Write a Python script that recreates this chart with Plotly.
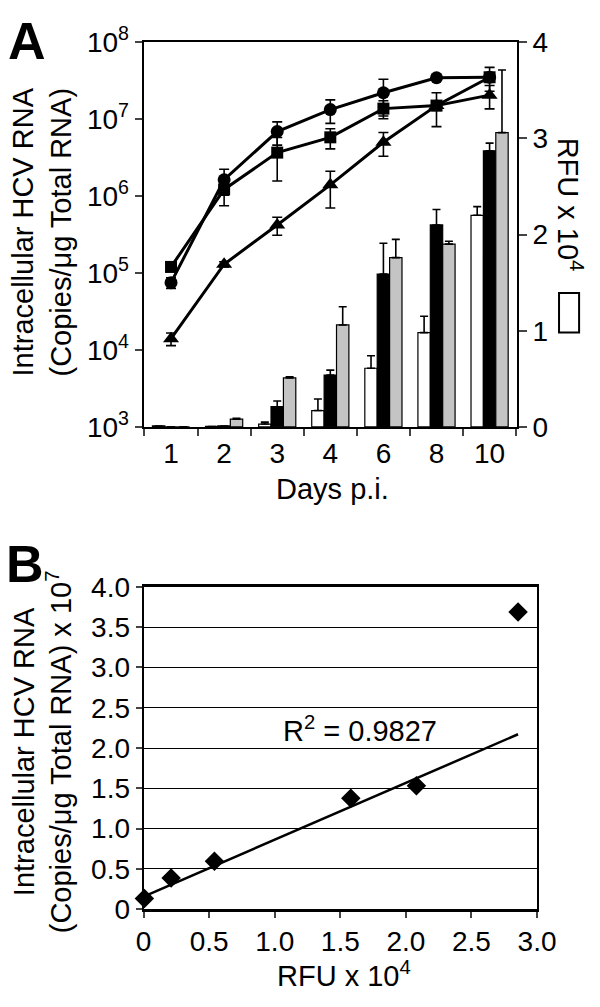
import plotly.graph_objects as go

# ---------------- Panel A data ----------------
days = ["1", "2", "3", "4", "6", "8", "10"]

rna_circle = [7.5e4, 1.63e6, 6.9e6, 1.33e7, 2.2e7, 3.45e7, 3.5e7]
rna_circle_err = [1.2e4, 6.0e5, 2.3e6, 4.5e6, 1.1e7, 1.0e6, 0]
rna_square = [1.2e5, 1.22e6, 3.67e6, 5.8e6, 1.37e7, 1.5e7, 3.5e7]
rna_square_err = [1.5e4, 4.7e5, 2.1e6, 1.7e6, 3.6e6, 7.0e6, 1.2e7]
rna_triangle = [1.4e4, 1.3e5, 4.2e5, 1.4e6, 5.0e6, 1.5e7, 2.05e7]
rna_triangle_err = [2.6e3, 1.0e4, 1.1e5, 7.0e5, 1.7e6, 2.0e6, 6.9e6]

rfu_white = [0.01, 0.005, 0.03, 0.17, 0.61, 0.98, 2.2]
rfu_white_err = [0, 0, 0.02, 0.12, 0.13, 0.17, 0.09]
rfu_black = [0.0, 0.01, 0.21, 0.54, 1.59, 2.10, 2.87]
rfu_black_err = [0, 0, 0.06, 0.05, 0.32, 0.16, 0.08]
rfu_gray = [0.0, 0.08, 0.51, 1.06, 1.76, 1.90, 3.06]
rfu_gray_err = [0, 0.01, 0.01, 0.19, 0.19, 0.03, 0.65]

log_tickvals = [1e3, 1e4, 1e5, 1e6, 1e7, 1e8]
log_ticktext = ["10<sup>3</sup>", "10<sup>4</sup>", "10<sup>5</sup>",
                "10<sup>6</sup>", "10<sup>7</sup>", "10<sup>8</sup>"]
rfu_ticks = [0, 1, 2, 3, 4]

# ---------------- Panel B data ----------------
b_rfu = [0.006, 0.21, 0.54, 1.58, 2.08, 2.855]
b_rna = [0.13, 0.385, 0.595, 1.377, 1.53, 3.69]
trend_slope = 0.706
trend_intercept = 0.155
r2_text = "R<sup>2</sup> = 0.9827"
b_xticks = [0, 0.5, 1.0, 1.5, 2.0, 2.5, 3.0]
b_xticktext = ["0", "0.5", "1.0", "1.5", "2.0", "2.5", "3.0"]
b_yticks = [0, 0.5, 1.0, 1.5, 2.0, 2.5, 3.0, 3.5, 4.0]
b_yticktext = ["0", "0.5", "1.0", "1.5", "2.0", "2.5", "3.0", "3.5", "4.0"]

FONT = "Liberation Sans, Arial, sans-serif"
FS = 28
FT = 29
FR = 29
W, H = 600, 1007


def px_x(x):
    return x / W


def px_y(y):
    return 1 - y / H


fig = go.Figure()

# Bars: RFU on the right-hand linear axis
bar_specs = [
    (rfu_white, rfu_white_err, "white"),
    (rfu_black, rfu_black_err, "black"),
    (rfu_gray, rfu_gray_err, "#c4c4c4"),
]
for vals, errs, col in bar_specs:
    fig.add_trace(go.Bar(
        x=days, y=vals, xaxis="x", yaxis="y",
        marker=dict(color=col, line=dict(color="black", width=1.2)),
        error_y=dict(type="data", array=errs, arrayminus=[0] * len(errs),
                     color="black", thickness=1.6, width=4),
        showlegend=False,
    ))

# Lines: HCV RNA on the left-hand log axis
line_specs = [
    (rna_triangle, rna_triangle_err, "triangle-up", 14),
    (rna_square, rna_square_err, "square", 12),
    (rna_circle, rna_circle_err, "circle", 13),
]
for vals, errs, sym, sz in line_specs:
    fig.add_trace(go.Scatter(
        x=days, y=vals, xaxis="x", yaxis="y2", mode="lines+markers",
        line=dict(color="black", width=3),
        marker=dict(symbol=sym, size=sz, color="black"),
        error_y=dict(type="data", array=errs, color="black", thickness=1.6, width=5),
        showlegend=False, cliponaxis=False,
    ))

# Panel B: trend line and points
fig.add_trace(go.Scatter(
    x=[0, max(b_rfu)],
    y=[trend_intercept, trend_intercept + trend_slope * max(b_rfu)],
    xaxis="x2", yaxis="y3", mode="lines",
    line=dict(color="black", width=2.5), showlegend=False,
))
fig.add_trace(go.Scatter(
    x=b_rfu, y=b_rna, xaxis="x2", yaxis="y3", mode="markers",
    marker=dict(symbol="diamond", size=15, color="black"),
    showlegend=False, cliponaxis=False,
))

tickfont = dict(family=FONT, size=FS, color="black")

fig.update_layout(
    width=W, height=H,
    margin=dict(l=0, r=0, t=0, b=0),
    paper_bgcolor="white", plot_bgcolor="white",
    font=dict(family=FONT, color="black", size=FS),
    barmode="group", bargap=0.30, bargroupgap=0,
    xaxis=dict(
        domain=[px_x(142), px_x(533)], anchor="y", type="category",
        tickson="boundaries", ticks="outside", ticklen=7, tickwidth=2,
        showline=True, linewidth=2, linecolor="black", mirror=True,
        showgrid=False, tickfont=tickfont,
    ),
    yaxis=dict(
        domain=[px_y(422), px_y(23)], anchor="x", side="right",
        range=[0, 4], tickvals=rfu_ticks, ticks="outside", ticklen=8, tickwidth=2,
        showline=True, linewidth=2, linecolor="black",
        showgrid=False, zeroline=False, tickfont=tickfont,
    ),
    yaxis2=dict(
        overlaying="y", anchor="x", side="left", type="log",
        range=[3, 8], tickvals=log_tickvals, ticktext=log_ticktext,
        ticks="outside", ticklen=7, tickwidth=2,
        showline=True, linewidth=2, linecolor="black",
        showgrid=False, zeroline=False, tickfont=tickfont,
    ),
    xaxis2=dict(
        domain=[px_x(142), px_x(554)], anchor="y3",
        range=[0, 3], tickvals=b_xticks, ticktext=b_xticktext,
        ticks="outside", ticklen=6, tickwidth=2,
        showline=True, linewidth=2.5, linecolor="black", mirror=True,
        showgrid=False, zeroline=False, tickfont=tickfont,
    ),
    yaxis3=dict(
        domain=[px_y(922), px_y(588)], anchor="x2",
        range=[0, 4], tickvals=b_yticks, ticktext=b_yticktext,
        ticks="outside", ticklen=6, tickwidth=2,
        showline=True, linewidth=2, linecolor="black", mirror=True,
        showgrid=True, gridcolor="black", gridwidth=1.2, zeroline=False,
        tickfont=tickfont,
    ),
)

ann_font = dict(family=FONT, size=FT, color="black")
rot_font = dict(family=FONT, size=FR, color="black")
annotations = [
    dict(text="<b>A</b>", x=px_x(20), y=px_y(22), xanchor="center", yanchor="middle",
         font=dict(family=FONT, size=52, color="black")),
    dict(text="<b>B</b>", x=px_x(18), y=px_y(564), xanchor="center", yanchor="middle",
         font=dict(family=FONT, size=52, color="black")),
    dict(text="Intracellular HCV RNA<br>(Copies/μg Total RNA)", textangle=-90,
         x=px_x(36), y=px_y(220), xanchor="center", yanchor="middle", font=rot_font),
    dict(text="Intracellular HCV RNA<br>(Copies/μg Total RNA) x 10<sup>7</sup>", textangle=-90,
         x=px_x(36), y=px_y(759), xanchor="center", yanchor="middle", font=rot_font),
    dict(text="RFU x 10<sup>4</sup>", textangle=90,
         x=px_x(588), y=px_y(191), xanchor="center", yanchor="middle", font=rot_font),
    dict(text="Days p.i.", x=px_x(340), y=px_y(486), xanchor="center", yanchor="middle",
         font=ann_font),
    dict(text="RFU x 10<sup>4</sup>", x=px_x(352), y=px_y(989), xanchor="center",
         yanchor="middle", font=ann_font),
    dict(text=r2_text, x=1.65, y=2.23, xref="x2", yref="y3", xanchor="center",
         yanchor="middle", font=dict(family=FONT, size=29, color="black")),
]
for a in annotations:
    a.setdefault("xref", "paper")
    a.setdefault("yref", "paper")
    a["showarrow"] = False
fig.update_layout(annotations=annotations)

# legend swatch for the open bar next to the right-axis title
fig.add_shape(type="rect", xref="paper", yref="paper",
              x0=px_x(577), x1=px_x(598), y0=px_y(324), y1=px_y(283),
              line=dict(color="black", width=2), fillcolor="white")

fig.write_html(
    "out.html",
    config={"displayModeBar": False},
    post_script="document.body.style.margin='0';document.body.style.padding='0';",
)
